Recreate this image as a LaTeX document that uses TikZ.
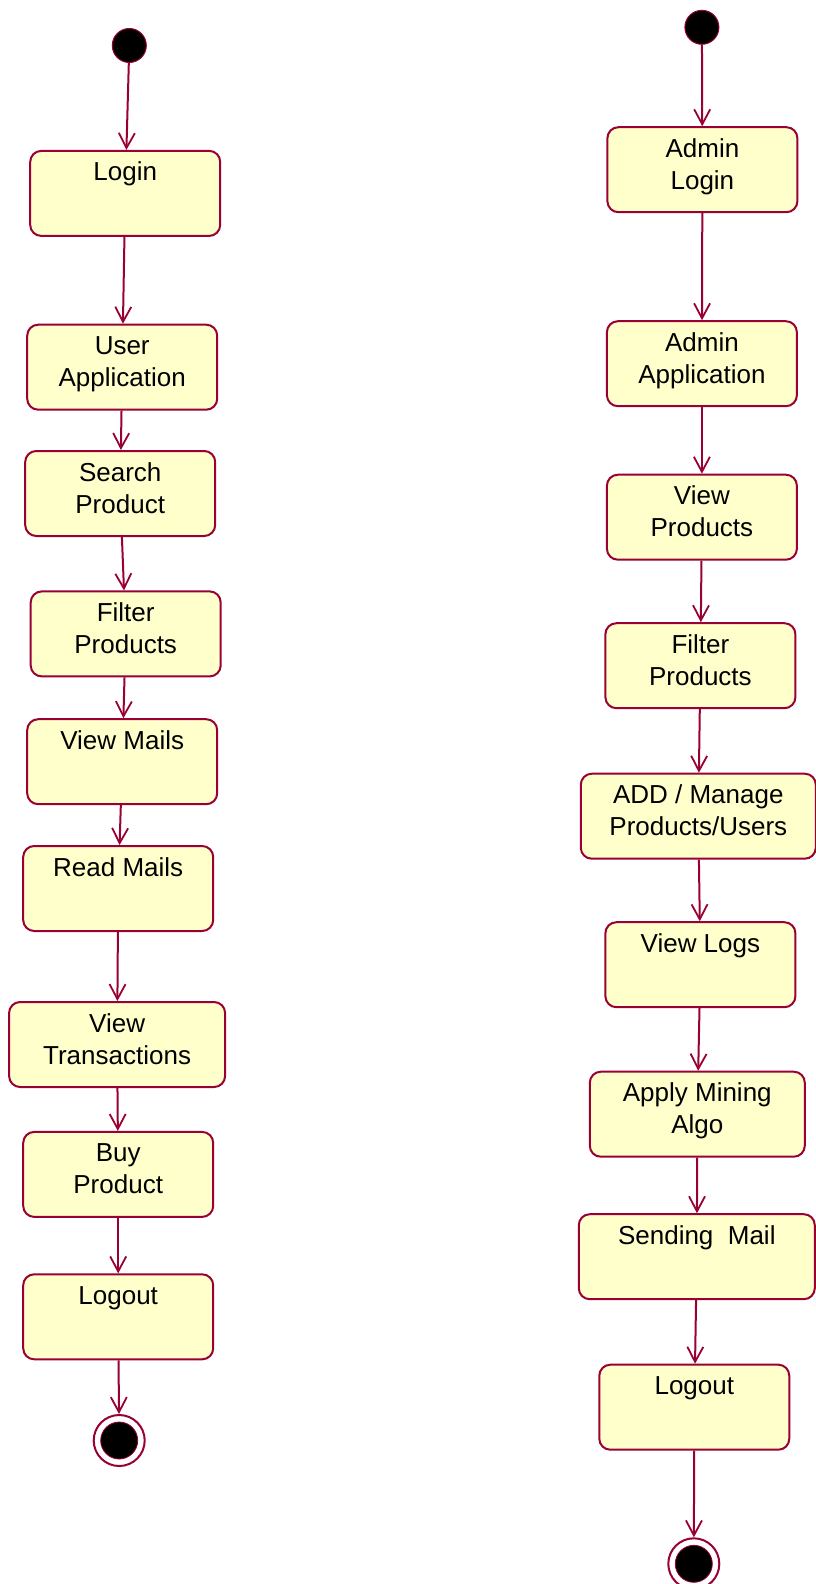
\documentclass[tikz,border=0pt]{standalone}
\usepackage{fontspec}
\setmainfont{Liberation Sans}
\usetikzlibrary{arrows.meta, positioning}
\definecolor{actborder}{HTML}{990033}
\definecolor{actfill}{HTML}{FFFFCC}

\begin{document}
\begin{tikzpicture}[x=1pt, y=-1pt,
  act/.style={rectangle, rounded corners=11pt, minimum width=190pt,
              minimum height=85pt, inner sep=0pt, text height=30pt,
              text depth=55pt, align=center,
              font=\fontsize{26}{32}\selectfont,
              draw=actborder, fill=actfill, line width=2pt},
  act2/.style={act, text height=62pt, text depth=23pt},
  init/.style={circle, fill=black, draw=actborder, line width=1pt,
               minimum size=34pt, inner sep=0pt},
  finalout/.style={circle, fill=white, draw=actborder, line width=2pt,
                   minimum size=51pt, inner sep=0pt},
  finalin/.style={circle, fill=black, draw=actborder, line width=0.8pt,
                  minimum size=37pt, inner sep=0pt},
  flow/.style={-{Straight Barb[length=15pt, width=16pt, line width=1.8pt]},
               draw=actborder, line width=2pt},
]
  \useasboundingbox (0,0) rectangle (816,1584);

  %% ── User flow (left column) ─────────────────────────────────────────────
  \node[init]     (ustart)  at (129.3,  45.5) {};
  \node[act]      (login)   at (125.2, 193.4) {Login};
  \node[act2]     (uapp)    at (122.2, 367.2) {User\\Application};
  \node[act2]     (search)  at (120.2, 493.5) {Search\\Product};
  \node[act2]     (ufilter) at (125.7, 633.9) {Filter\\Products};
  \node[act]      (vmails)  at (122.2, 761.7) {View Mails};
  \node[act]      (rmails)  at (118.2, 888.5) {Read Mails};
  \node[act2, minimum width=216pt] (vtrans) at (117.1,1044.5) {View\\Transactions};
  \node[act2]     (buy)     at (118.2,1174.4) {Buy\\Product};
  \node[act]      (ulogout) at (118.2,1316.8) {Logout};
  \node[finalout] (uend)    at (119.2,1440.5) {};
  \node[finalin]  (uendin)  at (uend) {};

  %% ── Admin flow (right column) ───────────────────────────────────────────
  \node[init]     (astart)  at (701.9,  27.3) {};
  \node[act2]     (alogin)  at (702.4, 169.7) {Admin\\Login};
  \node[act2]     (aapp)    at (701.9, 363.7) {Admin\\Application};
  \node[act2]     (vprod)   at (701.9, 517.2) {View\\Products};
  \node[act2]     (afilter) at (700.4, 665.7) {Filter\\Products};
  \node[act2, minimum width=235pt] (manage) at (698.3, 816.2) {ADD / Manage\\Products/Users};
  \node[act]      (vlogs)   at (700.4, 964.7) {View Logs};
  \node[act2, minimum width=215pt] (mining) at (697.3,1114.2) {Apply Mining\\Algo};
  \node[act, minimum width=236pt] (sendmail) at (696.8,1256.7) {Sending~~Mail};
  \node[act]      (alogout) at (694.3,1407.2) {Logout};
  \node[finalout] (aend)    at (693.8,1563.8) {};
  \node[finalin]  (aendin)  at (aend) {};

  %% ── Transitions ─────────────────────────────────────────────────────────
  \draw[flow] (ustart)  -- (login);
  \draw[flow] (login)   -- (uapp);
  \draw[flow] (uapp)    -- (search);
  \draw[flow] (search)  -- (ufilter);
  \draw[flow] (ufilter) -- (vmails);
  \draw[flow] (vmails)  -- (rmails);
  \draw[flow] (rmails)  -- (vtrans);
  \draw[flow] (vtrans)  -- (buy);
  \draw[flow] (buy)     -- (ulogout);
  \draw[flow] (ulogout) -- (uend);

  \draw[flow] (astart)  -- (alogin);
  \draw[flow] (alogin)  -- (aapp);
  \draw[flow] (aapp)    -- (vprod);
  \draw[flow] (vprod)   -- (afilter);
  \draw[flow] (afilter) -- (manage);
  \draw[flow] (manage)  -- (vlogs);
  \draw[flow] (vlogs)   -- (mining);
  \draw[flow] (mining)  -- (sendmail);
  \draw[flow] (sendmail)-- (alogout);
  \draw[flow] (alogout) -- (aend);

\end{tikzpicture}
\end{document}
